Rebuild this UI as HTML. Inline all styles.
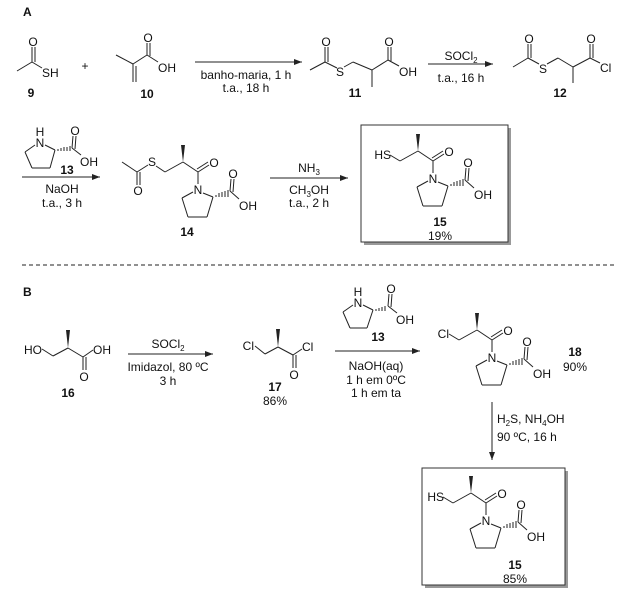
<!DOCTYPE html>
<html><head><meta charset="utf-8"><style>
html,body{margin:0;padding:0;background:#fff}
svg{display:block}
text{font-family:"Liberation Sans",Arial,sans-serif;font-size:12px;fill:#111}
.b{font-weight:bold}
line,polyline{stroke:#222;stroke-width:1;fill:none}
</style></head><body>
<svg width="621" height="589" viewBox="0 0 621 589" xmlns="http://www.w3.org/2000/svg">
<defs><marker id="ah" markerWidth="8" markerHeight="6" refX="8" refY="3" orient="auto" markerUnits="userSpaceOnUse"><path d="M0,0 L8,3 L0,6 z" fill="#222"/></marker></defs>

<text x="23" y="16" class="b">A</text>
<!-- 9 -->
<line x1="17" y1="71" x2="32" y2="62"/>
<line x1="32" y1="62" x2="32" y2="47"/><line x1="35" y1="62" x2="35" y2="47"/>
<text x="33" y="46" text-anchor="middle">O</text>
<line x1="32" y1="62" x2="42" y2="68"/>
<text x="42" y="77">SH</text>
<text x="31" y="97" class="b" text-anchor="middle">9</text>
<text x="85" y="70" text-anchor="middle">+</text>
<!-- 10 -->
<line x1="116" y1="55" x2="133" y2="64"/>
<line x1="133" y1="64" x2="133" y2="82"/><line x1="136" y1="66" x2="136" y2="82"/>
<line x1="133" y1="64" x2="147" y2="55"/>
<line x1="147" y1="55" x2="147" y2="43"/><line x1="150" y1="56" x2="150" y2="43"/>
<text x="148" y="42" text-anchor="middle">O</text>
<line x1="147" y1="55" x2="158" y2="62"/>
<text x="158" y="72">OH</text>
<text x="147" y="98" class="b" text-anchor="middle">10</text>
<!-- arrow 1 -->
<line x1="195" y1="62" x2="302" y2="62" marker-end="url(#ah)"/>
<text x="246" y="79" text-anchor="middle">banho-maria, 1 h</text>
<text x="246" y="92" text-anchor="middle">t.a., 18 h</text>
<!-- 11 -->
<line x1="310" y1="70" x2="325" y2="62"/>
<line x1="325" y1="62" x2="325" y2="47"/><line x1="328" y1="62" x2="328" y2="47"/>
<text x="326" y="46" text-anchor="middle">O</text>
<line x1="325" y1="62" x2="337" y2="68"/>
<text x="340" y="76" text-anchor="middle">S</text>
<line x1="344" y1="67" x2="353" y2="62"/>
<line x1="353" y1="62" x2="372" y2="70"/>
<line x1="372" y1="70" x2="372" y2="87"/>
<line x1="372" y1="70" x2="388" y2="60"/>
<line x1="388" y1="60" x2="388" y2="47"/><line x1="391" y1="61" x2="391" y2="47"/>
<text x="389" y="46" text-anchor="middle">O</text>
<line x1="388" y1="60" x2="399" y2="66"/>
<text x="399" y="76">OH</text>
<text x="355" y="97" class="b" text-anchor="middle">11</text>
<!-- arrow 2 -->
<line x1="428" y1="64" x2="493" y2="64" marker-end="url(#ah)"/>
<text x="461" y="60" text-anchor="middle">SOCl<tspan font-size="8" dy="3">2</tspan></text>
<text x="461" y="82" text-anchor="middle">t.a., 16 h</text>
<!-- 12 -->
<line x1="513" y1="67" x2="528" y2="58"/>
<line x1="528" y1="58" x2="528" y2="44"/><line x1="531" y1="58" x2="531" y2="44"/>
<text x="529" y="43" text-anchor="middle">O</text>
<line x1="528" y1="58" x2="539" y2="64"/>
<text x="543" y="73" text-anchor="middle">S</text>
<line x1="547" y1="64" x2="558" y2="58"/>
<line x1="558" y1="58" x2="573" y2="67"/>
<line x1="573" y1="67" x2="573" y2="83"/>
<line x1="573" y1="67" x2="590" y2="58"/>
<line x1="590" y1="58" x2="590" y2="44"/><line x1="593" y1="58" x2="593" y2="44"/>
<text x="591" y="43" text-anchor="middle">O</text>
<line x1="590" y1="58" x2="600" y2="63"/>
<text x="600" y="72">Cl</text>
<text x="560" y="97" class="b" text-anchor="middle">12</text>

<!-- 13 row 2 -->
<text x="40" y="136" text-anchor="middle">H</text>
<text x="40" y="147" text-anchor="middle">N</text>
<line x1="45" y1="145" x2="55" y2="150"/>
<line x1="55" y1="150" x2="50" y2="168"/>
<line x1="50" y1="168" x2="32" y2="168"/>
<line x1="32" y1="168" x2="25" y2="152"/>
<line x1="25" y1="152" x2="35" y2="145"/>
<g stroke="#222"><line x1="58" y1="149" x2="58" y2="151"/><line x1="61" y1="148" x2="61" y2="151"/><line x1="64" y1="147" x2="64" y2="151"/><line x1="67" y1="147" x2="67" y2="151"/><line x1="70" y1="146" x2="70" y2="151"/></g>
<line x1="72" y1="148" x2="73" y2="136"/><line x1="75" y1="149" x2="76" y2="136"/>
<text x="75" y="135" text-anchor="middle">O</text>
<line x1="72" y1="148" x2="81" y2="155"/>
<text x="80" y="166">OH</text>
<text x="67" y="174" class="b" text-anchor="middle">13</text>
<line x1="22" y1="177" x2="100" y2="177" marker-end="url(#ah)"/>
<text x="62" y="193" text-anchor="middle">NaOH</text>
<text x="62" y="207" text-anchor="middle">t.a., 3 h</text>

<!-- 14 -->
<line x1="122" y1="162" x2="137" y2="172"/>
<line x1="137" y1="172" x2="137" y2="185"/><line x1="140" y1="172" x2="140" y2="185"/>
<text x="138" y="195" text-anchor="middle">O</text>
<line x1="137" y1="172" x2="148" y2="165"/>
<text x="152" y="166" text-anchor="middle">S</text>
<line x1="156" y1="166" x2="165" y2="172"/>
<line x1="165" y1="172" x2="183" y2="162"/>
<polygon points="183,162 181,145 185,145" fill="#222"/>
<line x1="183" y1="162" x2="198" y2="172"/>
<line x1="198" y1="172" x2="209" y2="165"/><line x1="197" y1="169" x2="208" y2="162"/>
<text x="214" y="167" text-anchor="middle">O</text>
<line x1="198" y1="172" x2="198" y2="184"/>
<text x="198" y="194" text-anchor="middle">N</text>
<line x1="203" y1="193" x2="213" y2="197"/>
<line x1="213" y1="197" x2="207" y2="217"/>
<line x1="207" y1="217" x2="188" y2="217"/>
<line x1="188" y1="217" x2="182" y2="198"/>
<line x1="182" y1="198" x2="193" y2="192"/>
<g stroke="#222"><line x1="216" y1="195" x2="216" y2="197"/><line x1="219" y1="193" x2="219" y2="197"/><line x1="222" y1="192" x2="222" y2="197"/><line x1="225" y1="191" x2="225" y2="197"/><line x1="228" y1="190" x2="228" y2="197"/></g>
<line x1="230" y1="191" x2="231" y2="179"/><line x1="233" y1="192" x2="234" y2="179"/>
<text x="233" y="178" text-anchor="middle">O</text>
<line x1="230" y1="191" x2="239" y2="199"/>
<text x="239" y="210">OH</text>
<text x="187" y="236" class="b" text-anchor="middle">14</text>
<!-- arrow 4 -->
<line x1="270" y1="178" x2="348" y2="178" marker-end="url(#ah)"/>
<text x="309" y="172" text-anchor="middle">NH<tspan font-size="8" dy="3">3</tspan></text>
<text x="309" y="194" text-anchor="middle">CH<tspan font-size="8" dy="3">3</tspan><tspan dy="-3">OH</tspan></text>
<text x="309" y="207" text-anchor="middle">t.a., 2 h</text>

<!-- Box A -->
<rect x="364" y="128" width="147" height="117" fill="#999"/>
<rect x="361" y="125" width="147" height="117" fill="#fff" stroke="#333"/>
<g transform="translate(418,151)">
<line x1="-28" y1="4" x2="-18" y2="10"/>
<text x="-27" y="8" text-anchor="end">HS</text>
<line x1="-18" y1="10" x2="0" y2="0"/>
<polygon points="0,0 -2,-17 2,-17" fill="#222"/>
<line x1="0" y1="0" x2="15" y2="10"/>
<line x1="15" y1="10" x2="26" y2="3"/><line x1="14" y1="7" x2="25" y2="0"/>
<text x="31" y="5" text-anchor="middle">O</text>
<line x1="15" y1="10" x2="15" y2="22"/>
<text x="15" y="32" text-anchor="middle">N</text>
<line x1="20" y1="31" x2="30" y2="35"/>
<line x1="30" y1="35" x2="24" y2="55"/>
<line x1="24" y1="55" x2="5" y2="55"/>
<line x1="5" y1="55" x2="-1" y2="36"/>
<line x1="-1" y1="36" x2="10" y2="30"/>
<line x1="33" y1="33" x2="33" y2="35"/><line x1="36" y1="31" x2="36" y2="35"/><line x1="39" y1="30" x2="39" y2="35"/><line x1="42" y1="29" x2="42" y2="35"/><line x1="45" y1="28" x2="45" y2="35"/>
<line x1="47" y1="29" x2="48" y2="17"/><line x1="50" y1="30" x2="51" y2="17"/>
<text x="50" y="16" text-anchor="middle">O</text>
<line x1="47" y1="29" x2="56" y2="37"/>
<text x="56" y="48">OH</text>
</g>
<text x="440" y="226" class="b" text-anchor="middle">15</text>
<text x="440" y="240" text-anchor="middle">19%</text>

<line x1="22" y1="265" x2="615" y2="265" stroke="#444" stroke-dasharray="4,3"/>

<text x="23" y="296" class="b">B</text>
<!-- 16 -->
<text x="42" y="354" text-anchor="end">HO</text>
<line x1="42" y1="349" x2="53" y2="356"/>
<line x1="53" y1="356" x2="68" y2="348"/>
<polygon points="68,348 66,330 70,330" fill="#222"/>
<line x1="68" y1="348" x2="83" y2="357"/>
<line x1="83" y1="357" x2="83" y2="370"/><line x1="86" y1="357" x2="86" y2="370"/>
<text x="84" y="381" text-anchor="middle">O</text>
<line x1="83" y1="357" x2="93" y2="350"/>
<text x="93" y="354">OH</text>
<text x="68" y="397" class="b" text-anchor="middle">16</text>
<line x1="128" y1="354" x2="213" y2="354" marker-end="url(#ah)"/>
<text x="168" y="348" text-anchor="middle">SOCl<tspan font-size="8" dy="3">2</tspan></text>
<text x="168" y="371" text-anchor="middle">Imidazol, 80 ºC</text>
<text x="168" y="385" text-anchor="middle">3 h</text>
<!-- 17 -->
<text x="254" y="350" text-anchor="end">Cl</text>
<line x1="255" y1="346" x2="265" y2="354"/>
<line x1="265" y1="354" x2="278" y2="347"/>
<polygon points="278,347 276,329 280,329" fill="#222"/>
<line x1="278" y1="347" x2="293" y2="355"/>
<line x1="293" y1="355" x2="293" y2="368"/><line x1="296" y1="355" x2="296" y2="368"/>
<text x="294" y="379" text-anchor="middle">O</text>
<line x1="293" y1="355" x2="302" y2="349"/>
<text x="302" y="351">Cl</text>
<text x="275" y="391" class="b" text-anchor="middle">17</text>
<text x="275" y="405" text-anchor="middle">86%</text>
<!-- 13 B -->
<text x="358" y="296" text-anchor="middle">H</text>
<text x="358" y="307" text-anchor="middle">N</text>
<line x1="363" y1="305" x2="373" y2="310"/>
<line x1="373" y1="310" x2="367" y2="328"/>
<line x1="367" y1="328" x2="350" y2="328"/>
<line x1="350" y1="328" x2="343" y2="312"/>
<line x1="343" y1="312" x2="353" y2="305"/>
<g><line x1="376" y1="309" x2="376" y2="311"/><line x1="379" y1="308" x2="379" y2="311"/><line x1="382" y1="307" x2="382" y2="311"/><line x1="385" y1="306" x2="385" y2="311"/></g>
<line x1="388" y1="306" x2="389" y2="294"/><line x1="391" y1="307" x2="392" y2="294"/>
<text x="391" y="293" text-anchor="middle">O</text>
<line x1="388" y1="306" x2="397" y2="313"/>
<text x="396" y="324">OH</text>
<text x="378" y="341" class="b" text-anchor="middle">13</text>
<line x1="335" y1="351" x2="420" y2="351" marker-end="url(#ah)"/>
<text x="376" y="370" text-anchor="middle">NaOH(aq)</text>
<text x="376" y="384" text-anchor="middle">1 h em 0ºC</text>
<text x="376" y="397" text-anchor="middle">1 h em ta</text>
<!-- 18 -->
<g transform="translate(477,330)">
<line x1="-28" y1="4" x2="-18" y2="10"/>
<text x="-28" y="8" text-anchor="end">Cl</text>
<line x1="-18" y1="10" x2="0" y2="0"/>
<polygon points="0,0 -2,-17 2,-17" fill="#222"/>
<line x1="0" y1="0" x2="15" y2="10"/>
<line x1="15" y1="10" x2="26" y2="3"/><line x1="14" y1="7" x2="25" y2="0"/>
<text x="31" y="5" text-anchor="middle">O</text>
<line x1="15" y1="10" x2="15" y2="22"/>
<text x="15" y="32" text-anchor="middle">N</text>
<line x1="20" y1="31" x2="30" y2="35"/>
<line x1="30" y1="35" x2="24" y2="55"/>
<line x1="24" y1="55" x2="5" y2="55"/>
<line x1="5" y1="55" x2="-1" y2="36"/>
<line x1="-1" y1="36" x2="10" y2="30"/>
<line x1="33" y1="33" x2="33" y2="35"/><line x1="36" y1="31" x2="36" y2="35"/><line x1="39" y1="30" x2="39" y2="35"/><line x1="42" y1="29" x2="42" y2="35"/><line x1="45" y1="28" x2="45" y2="35"/>
<line x1="47" y1="29" x2="48" y2="17"/><line x1="50" y1="30" x2="51" y2="17"/>
<text x="50" y="16" text-anchor="middle">O</text>
<line x1="47" y1="29" x2="56" y2="37"/>
<text x="56" y="48">OH</text>
</g>
<text x="575" y="356" class="b" text-anchor="middle">18</text>
<text x="575" y="371" text-anchor="middle">90%</text>
<line x1="492" y1="402" x2="492" y2="460" marker-end="url(#ah)"/>
<text x="497" y="423">H<tspan font-size="8" dy="3">2</tspan><tspan dy="-3">S, NH</tspan><tspan font-size="8" dy="3">4</tspan><tspan dy="-3">OH</tspan></text>
<text x="497" y="441">90 ºC, 16 h</text>

<!-- Box B -->
<rect x="425" y="471" width="143" height="117" fill="#999"/>
<rect x="422" y="468" width="143" height="117" fill="#fff" stroke="#333"/>
<g transform="translate(471,493)">
<line x1="-28" y1="4" x2="-18" y2="10"/>
<text x="-27" y="8" text-anchor="end">HS</text>
<line x1="-18" y1="10" x2="0" y2="0"/>
<polygon points="0,0 -2,-17 2,-17" fill="#222"/>
<line x1="0" y1="0" x2="15" y2="10"/>
<line x1="15" y1="10" x2="26" y2="3"/><line x1="14" y1="7" x2="25" y2="0"/>
<text x="31" y="5" text-anchor="middle">O</text>
<line x1="15" y1="10" x2="15" y2="22"/>
<text x="15" y="32" text-anchor="middle">N</text>
<line x1="20" y1="31" x2="30" y2="35"/>
<line x1="30" y1="35" x2="24" y2="55"/>
<line x1="24" y1="55" x2="5" y2="55"/>
<line x1="5" y1="55" x2="-1" y2="36"/>
<line x1="-1" y1="36" x2="10" y2="30"/>
<line x1="33" y1="33" x2="33" y2="35"/><line x1="36" y1="31" x2="36" y2="35"/><line x1="39" y1="30" x2="39" y2="35"/><line x1="42" y1="29" x2="42" y2="35"/><line x1="45" y1="28" x2="45" y2="35"/>
<line x1="47" y1="29" x2="48" y2="17"/><line x1="50" y1="30" x2="51" y2="17"/>
<text x="50" y="16" text-anchor="middle">O</text>
<line x1="47" y1="29" x2="56" y2="37"/>
<text x="56" y="48">OH</text>
</g>
<text x="515" y="569" class="b" text-anchor="middle">15</text>
<text x="515" y="583" text-anchor="middle">85%</text>
</svg>
</body></html>
